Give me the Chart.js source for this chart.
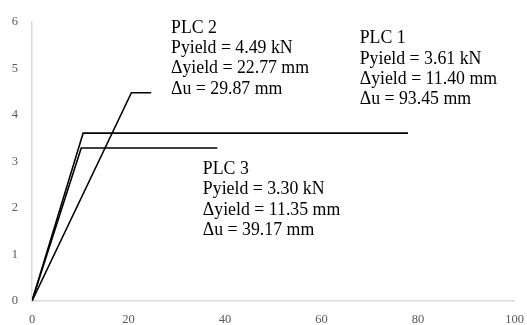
<!DOCTYPE html>
<html>
<head>
<meta charset="utf-8">
<script src="https://cdn.jsdelivr.net/npm/chart.js@4.4.0/dist/chart.umd.min.js"></script>
<style>
  html, body { margin: 0; padding: 0; background: #fff; }
  #wrap { width: 527px; height: 325px; position: relative; }
</style>
</head>
<body>
<div id="wrap"><canvas id="plcChart"></canvas></div>
<script>
// --- data ---
const plc1X = [0, 10.6, 77.9];
const plc1Y = [0, 3.61, 3.61];
const plc2X = [0, 20.6, 24.7];
const plc2Y = [0, 4.48, 4.48];
const plc3X = [0, 10.2, 38.4];
const plc3Y = [0, 3.29, 3.29];

const xTicks = [0, 20, 40, 60, 80, 100];
const yTicks = [0, 1, 2, 3, 4, 5, 6];

// text blocks, anchored in data units (x = left edge, y = first line centre)
const noteNames = ['PLC 1', 'PLC 2', 'PLC 3'];
const noteLines = [
    ['PLC 1', 'Pyield = 3.61 kN', '\u0394yield = 11.40 mm', '\u0394u = 93.45 mm'],
    ['PLC 2', 'Pyield = 4.49 kN', '\u0394yield = 22.77 mm', '\u0394u = 29.87 mm'],
    ['PLC 3', 'Pyield = 3.30 kN', '\u0394yield = 11.35 mm', '\u0394u = 39.17 mm']
];
const noteX = [67.9, 28.8, 35.4];
const noteY = [5.64, 5.87, 2.83];

const toPoints = (xs, ys) => xs.map((x, i) => ({ x: x, y: ys[i] }));

const notesPlugin = {
    id: 'notes',
    afterDatasetsDraw(chart) {
        const ctx = chart.ctx;
        const sx = chart.scales.x, sy = chart.scales.y;
        ctx.save();
        ctx.fillStyle = '#000';
        ctx.font = '17.8px "Liberation Serif", "Times New Roman", serif';
        ctx.textAlign = 'left';
        ctx.textBaseline = 'middle';
        noteLines.forEach((lines, i) => {
            const px = sx.getPixelForValue(noteX[i]);
            const py = sy.getPixelForValue(noteY[i]);
            lines.forEach((t, j) => ctx.fillText(t, px, py + j * 20.3));
        });
        ctx.restore();
    }
};

const lineStyle = {
    borderColor: '#000',
    backgroundColor: '#000',
    borderWidth: 1.6,
    pointRadius: 0,
    showLine: true,
    fill: false,
    tension: 0
};

new Chart(document.getElementById('plcChart').getContext('2d'), {
    type: 'scatter',
    data: {
        datasets: [
            Object.assign({ label: noteNames[0], data: toPoints(plc1X, plc1Y) }, lineStyle),
            Object.assign({ label: noteNames[1], data: toPoints(plc2X, plc2Y) }, lineStyle),
            Object.assign({ label: noteNames[2], data: toPoints(plc3X, plc3Y) }, lineStyle)
        ]
    },
    options: {
        responsive: true,
        maintainAspectRatio: false,
        animation: false,
        layout: { padding: { top: 22, right: 10, left: 0, bottom: 0 } },
        plugins: {
            legend: { display: false },
            tooltip: { enabled: false }
        },
        scales: {
            x: {
                type: 'linear',
                min: 0,
                max: 100,
                afterBuildTicks: (s) => { s.ticks = xTicks.map(v => ({ value: v })); },
                afterFit: (s) => { s.height = 24; },
                grid: { display: false },
                border: { display: true, color: '#d9d9d9', width: 1.5 },
                ticks: {
                    color: '#595959',
                    padding: 3,
                    font: { family: '"Liberation Serif", serif', size: 12.5 }
                }
            },
            y: {
                type: 'linear',
                min: 0,
                max: 6,
                afterBuildTicks: (s) => { s.ticks = yTicks.map(v => ({ value: v })); },
                afterFit: (s) => { s.width = 32; },
                grid: { display: false },
                border: { display: true, color: '#d9d9d9', width: 1.5 },
                ticks: {
                    color: '#595959',
                    padding: 6,
                    font: { family: '"Liberation Serif", serif', size: 12.5 }
                }
            }
        }
    },
    plugins: [notesPlugin]
});
</script>
</body>
</html>
